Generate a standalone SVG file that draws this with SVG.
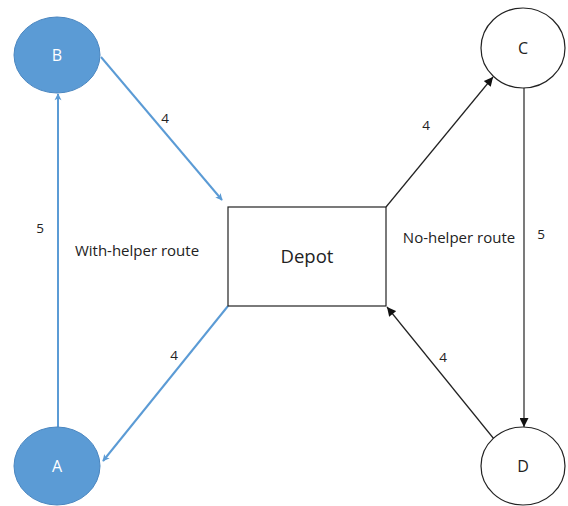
<svg xmlns="http://www.w3.org/2000/svg" width="568" height="506" viewBox="0 0 568 506">
<style>
text{font-family:"Open Sans","Liberation Sans",sans-serif;fill:#222}
.lbl{font-size:13.5px}
.rt{font-size:15px}
.blue{stroke:#5B9BD5;stroke-width:2;fill:none}
.blk{stroke:#222;stroke-width:1.2;fill:none}
</style>
<defs>
<marker id="ab" viewBox="0 0 10 10" refX="9" refY="5" markerWidth="7" markerHeight="7" markerUnits="userSpaceOnUse" orient="auto" overflow="visible">
<path d="M0,0 L10,5 L0,10 L2.5,5 Z" fill="#5B9BD5"/>
</marker>
<marker id="ak" viewBox="0 0 10 10" refX="10" refY="5" markerWidth="11" markerHeight="9" markerUnits="userSpaceOnUse" orient="auto">
<path d="M0,0 L10,5 L0,10 Z" fill="#111"/>
</marker>
</defs>
<rect width="568" height="506" fill="#fff"/>
<g id="connectors">
<line class="blue" x1="58" y1="427" x2="58" y2="94" marker-end="url(#ab)"/>
<line class="blue" x1="101" y1="57" x2="222" y2="200" marker-end="url(#ab)"/>
<line class="blue" x1="228" y1="306" x2="103" y2="461" marker-end="url(#ab)"/>
<line class="blk" x1="386" y1="207" x2="493" y2="77" marker-end="url(#ak)"/>
<line class="blk" x1="524" y1="88" x2="524" y2="427" marker-end="url(#ak)"/>
<line class="blk" x1="494" y1="439" x2="387" y2="307" marker-end="url(#ak)"/>
<text class="lbl" x="165" y="123" text-anchor="middle">4</text>
<text class="lbl" x="40" y="233" text-anchor="middle">5</text>
<text class="lbl" x="174" y="360" text-anchor="middle">4</text>
<text class="lbl" x="426" y="130" text-anchor="middle">4</text>
<text class="lbl" x="541" y="239" text-anchor="middle">5</text>
<text class="lbl" x="443" y="362" text-anchor="middle">4</text>
<text class="rt" x="137" y="256" text-anchor="middle">With-helper route</text>
<text class="rt" x="459" y="243" text-anchor="middle">No-helper route</text>
</g>
<g id="node-B">
<ellipse cx="57" cy="55" rx="43" ry="38" fill="#5B9BD5" stroke="#4A86C0" stroke-width="1"/>
<text x="57" y="61" font-size="16" text-anchor="middle" style="fill:#fff">B</text>
</g>
<g id="node-A">
<ellipse cx="57" cy="466" rx="43" ry="39" fill="#5B9BD5" stroke="#4A86C0" stroke-width="1"/>
<text x="57" y="472" font-size="16" text-anchor="middle" style="fill:#fff">A</text>
</g>
<g id="node-C">
<ellipse cx="523" cy="48" rx="42" ry="40" fill="#fff" stroke="#222" stroke-width="1.2"/>
<text x="523" y="54" font-size="16" text-anchor="middle">C</text>
</g>
<g id="node-D">
<ellipse cx="523" cy="466" rx="42" ry="39" fill="#fff" stroke="#222" stroke-width="1.2"/>
<text x="523" y="472" font-size="16" text-anchor="middle">D</text>
</g>
<g id="node-Depot">
<rect x="228" y="207" width="158" height="99" fill="#fff" stroke="#222" stroke-width="1.2"/>
<text x="307" y="263" font-size="18.5" text-anchor="middle">Depot</text>
</g>
</svg>
